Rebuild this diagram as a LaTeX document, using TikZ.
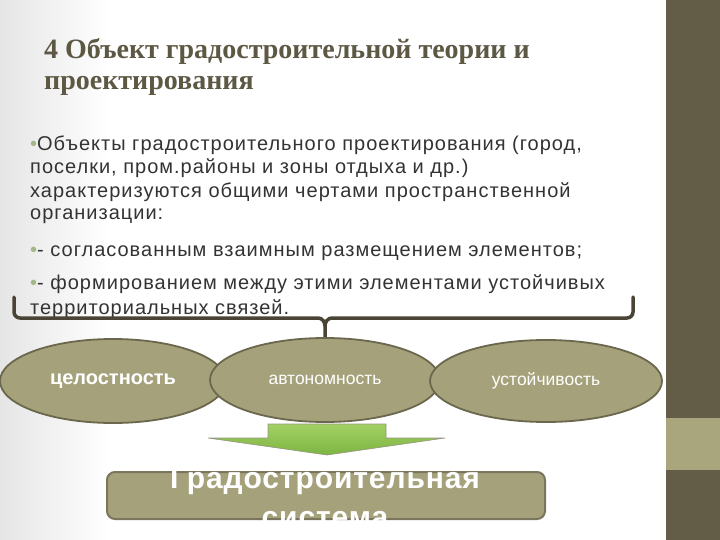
\documentclass[tikz,border=0pt]{standalone}
\usepackage{fontspec}
\setmainfont{Liberation Serif}
\setsansfont{Liberation Sans}
\newfontfamily\bodyfont[LetterSpace=5]{Liberation Sans}
\newfontfamily\boxfont[LetterSpace=3]{Liberation Sans}
\usetikzlibrary{shapes.geometric}
\definecolor{bardark}{HTML}{635C46}
\definecolor{barlight}{HTML}{A9A67E}
\definecolor{titlecol}{HTML}{5C5843}
\definecolor{bodycol}{HTML}{333333}
\definecolor{bulletcol}{HTML}{A3B886}
\definecolor{olivefill}{HTML}{A5A27B}
\definecolor{olivedraw}{HTML}{6B674C}
\definecolor{bracecol}{HTML}{4A4436}
\definecolor{greentop}{HTML}{A2D063}
\definecolor{greenbot}{HTML}{7DB543}
\tikzset{
  titletext/.style={anchor=base west, inner sep=0pt, text=titlecol, font=\fontsize{28}{32}\selectfont\bfseries},
  bodytext/.style={anchor=base west, inner sep=0pt, text=bodycol, font=\bodyfont\fontsize{20}{23}\selectfont},
  oval/.style={ellipse, draw=olivedraw, line width=1.8pt, fill=olivefill, text=white, font=\sffamily\fontsize{17.5}{20}\selectfont},
  boxtext/.style={text=white, font=\boxfont\bfseries\fontsize{30}{35}\selectfont, inner sep=0pt, anchor=base}
}
\begin{document}
\begin{tikzpicture}[x=1pt,y=-1pt]
\useasboundingbox (0,0) rectangle (720,540);
% background
\fill[white] (0,0) rectangle (666,540);
\shade[left color=black!10, right color=white] (0,0) rectangle (110,540);
\fill[bardark] (666,0) rectangle (720,540);
\fill[barlight] (666,418) rectangle (720,470);
% title
\node[titletext] (t1) at (44,59) {4 Объект градостроительной теории и};
\node[titletext] (t2) at (44,90) {проектирования};
% body
\node[bodytext] (b1) at (30,151) {{\color{bulletcol}•}Объекты градостроительного проектирования (город,};
\node[bodytext] (b2) at (30,174) {поселки, пром.районы и зоны отдыха и др.)};
\node[bodytext] (b3) at (30,197) {характеризуются общими чертами пространственной};
\node[bodytext] (b4) at (30,220) {организации:};
\node[bodytext] (b5) at (30,256) {{\color{bulletcol}•}- согласованным взаимным размещением элементов;};
\node[bodytext] (b6) at (30,289) {{\color{bulletcol}•}- формированием между этими элементами устойчивых};
\node[bodytext] (b7) at (30,314) {территориальных связей.};
% brace
\coordinate (bl) at (14,297);
\coordinate (br) at (633,297);
\coordinate (bm) at (325,341);
\draw[bracecol, line width=3.5pt, line cap=round, line join=round]
  (bl) -- (14,312) to[out=-90,in=180] (20,318) -- (318,318) to[out=0,in=90] (bm |- 0,326) -- (bm);
\draw[bracecol, line width=3.5pt, line cap=round, line join=round]
  (br) -- (633,312) to[out=-90,in=0] (627,318) -- (332,318) to[out=180,in=90] (bm |- 0,326);
% ellipses
\node[oval, minimum width=226pt, minimum height=84pt, font=\sffamily\fontsize{20}{23}\selectfont\bfseries] (e1) at (113,381) {целостность};
\node[oval, minimum width=230pt, minimum height=84pt] (e2) at (325,380) {автономность};
\node[oval, minimum width=232pt, minimum height=82pt] (e3) at (546,381) {устойчивость};
% arrow
\shade[top color=greentop, bottom color=greenbot, draw=olivedraw!70, line width=0.6pt]
  (268,424) -- (386,424) -- (386,438) -- (445,438) -- (327,455) -- (208,438) -- (268,438) -- cycle;
% result box
\node[draw=olivedraw!90, line width=2pt, fill=olivefill, rounded corners=8pt, minimum width=438pt, minimum height=47pt, inner sep=0pt] (box) at (326,495.5) {};
\node[boxtext] (bt1) at (325,488) {Градостроительная};
\node[boxtext] (bt2) at (325,527) {система};
\end{tikzpicture}
\end{document}
